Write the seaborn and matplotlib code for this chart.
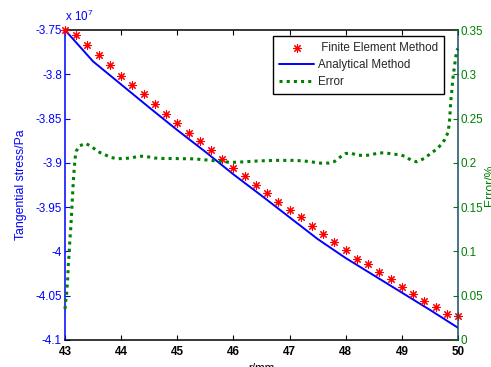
import numpy as np
import pandas as pd
import matplotlib
matplotlib.use("Agg")
import matplotlib.pyplot as plt
from matplotlib.collections import PathCollection
from matplotlib.ticker import FixedLocator, FuncFormatter
import seaborn as sns

# ---- data -------------------------------------------------------------
# Finite element results, every 0.2 mm from r = 43 to 50 (units of 1e7 Pa)
fem_r = np.round(np.arange(43.0, 50.0001, 0.2), 2)
fem_stress = np.array([
    -3.7500, -3.7558, -3.7672, -3.7787, -3.7898, -3.8015, -3.8122, -3.8228,
    -3.8337, -3.8450, -3.8550, -3.8658, -3.8755, -3.8855, -3.8955, -3.9055,
    -3.9152, -3.9248, -3.9344, -3.9444, -3.9530, -3.9613, -3.9710, -3.9800,
    -3.9890, -3.9980, -4.0080, -4.0145, -4.0230, -4.0310, -4.0400, -4.0480,
    -4.0560, -4.0630, -4.0707, -4.0727,
])

# Analytical solution (units of 1e7 Pa)
ana_r = [43.0, 43.5, 44.0, 44.5, 45.0, 45.5, 46.0, 46.5,
         47.0, 47.5, 48.0, 48.5, 49.0, 49.5, 50.0]
ana_stress = [-3.7500, -3.7855, -3.8115, -3.8375, -3.8630, -3.8875, -3.9130,
              -3.9370, -3.9615, -3.9860, -4.0075, -4.0270, -4.0465, -4.0660,
              -4.0862]

# Relative error between the two solutions (%)
err_r = [43.000, 43.012, 43.030, 43.048, 43.060, 43.072, 43.085, 43.100,
         43.115, 43.130, 43.148, 43.165, 43.180, 43.200, 43.250, 43.370,
         43.490, 43.590, 43.700, 43.820, 43.940, 44.070, 44.200, 44.320,
         44.460, 44.590, 44.720, 45.000, 45.300, 45.600, 45.850, 46.000,
         46.200, 46.450, 46.730, 47.070, 47.250, 47.400, 47.550, 47.700,
         47.800, 47.900, 48.000, 48.080, 48.200, 48.320, 48.450, 48.580,
         48.700, 48.850, 48.970, 49.060, 49.160, 49.260, 49.400, 49.500,
         49.600, 49.700, 49.760, 49.820, 49.846, 49.858, 49.870, 49.888,
         49.906, 49.929, 49.952, 49.977, 50.000]
err_val = [0.035, 0.044, 0.053, 0.069, 0.086, 0.096, 0.111, 0.124,
           0.140, 0.158, 0.179, 0.194, 0.205, 0.213, 0.219, 0.222,
           0.2175, 0.2126, 0.2095, 0.2060, 0.2047, 0.2050, 0.2058, 0.2077,
           0.2070, 0.2055, 0.2050, 0.2048, 0.2045, 0.2028, 0.2010, 0.2006,
           0.2012, 0.2022, 0.2028, 0.2028, 0.2022, 0.2010, 0.1997, 0.1998,
           0.2015, 0.2065, 0.2105, 0.2112, 0.2088, 0.2082, 0.2090, 0.2112,
           0.2113, 0.2098, 0.2092, 0.2072, 0.2032, 0.2012, 0.2050, 0.2100,
           0.2145, 0.2205, 0.2260, 0.2340, 0.2446, 0.2560, 0.2690, 0.2800,
           0.2935, 0.3050, 0.3160, 0.3270, 0.3290]

x_ticks = [43, 44, 45, 46, 47, 48, 49, 50]
left_ticks = [-4.1, -4.05, -4.0, -3.95, -3.9, -3.85, -3.8, -3.75]
right_ticks = [0, 0.05, 0.1, 0.15, 0.2, 0.25, 0.3, 0.35]

SCALE = 1e7
fem_df = pd.DataFrame({"r": fem_r, "stress": fem_stress * SCALE})
ana_df = pd.DataFrame({"r": ana_r, "stress": np.array(ana_stress) * SCALE})
err_df = pd.DataFrame({"r": err_r, "err": err_val})

# ---- style --------------------------------------------------------------
sns.set_theme(style="white")
plt.rcParams["font.family"] = ["Liberation Sans", "DejaVu Sans"]
plt.rcParams["mathtext.fontset"] = "custom"
plt.rcParams["mathtext.rm"] = "Liberation Sans"
plt.rcParams["mathtext.it"] = "Liberation Sans"
plt.rcParams["axes.unicode_minus"] = False

BLUE = "#0000ff"
GREEN = "#008000"
RED = "#ff0000"
FS = 8.4

fig = plt.figure(figsize=(4.91, 3.67), dpi=100)
fig.patch.set_facecolor("white")
ax = fig.add_axes([65 / 491, 27 / 367, 393 / 491, 310 / 367])
ax2 = ax.twinx()

# ---- stress curves (left axis) -----------------------------------------
sns.lineplot(data=ana_df, x="r", y="stress", ax=ax, color=BLUE, lw=1.4,
             errorbar=None, legend=False, zorder=2)
sns.scatterplot(data=fem_df, x="r", y="stress", ax=ax, marker=(8, 2, 0),
                color=RED, s=30, linewidths=0.8, legend=False, zorder=3,
                clip_on=False)

# ---- error curve (right axis) ------------------------------------------
sns.lineplot(data=err_df, x="r", y="err", ax=ax2, color=GREEN, lw=2.2,
             linestyle=(0, (1, 1.35)), errorbar=None, legend=False,
             clip_on=False)

# ---- axes ----------------------------------------------------------------
ax.set_xlim(43, 50)
ax.set_ylim(-4.1 * SCALE, -3.75 * SCALE)
ax2.set_ylim(0, 0.35)

ax.xaxis.set_major_locator(FixedLocator(x_ticks))
ax.yaxis.set_major_locator(FixedLocator([v * SCALE for v in left_ticks]))
ax2.yaxis.set_major_locator(FixedLocator(right_ticks))
ax.xaxis.set_major_formatter(FuncFormatter(lambda v, p: f"{v:g}"))
ax.yaxis.set_major_formatter(FuncFormatter(lambda v, p: f"{round(v / SCALE, 4):g}"))
ax2.yaxis.set_major_formatter(FuncFormatter(lambda v, p: f"{round(v, 4):g}"))

ax.tick_params(axis="x", direction="in", length=3.3, width=0.8, color="black",
               top=True, bottom=True, labelsize=FS, labelcolor="black", pad=4.2)
for lab in ax.get_xticklabels():
    lab.set_fontweight("bold")
ax.tick_params(axis="y", direction="in", length=3.3, width=0.8, color=BLUE,
               left=True, right=False, labelsize=FS, labelcolor=BLUE, pad=2.2)
ax2.tick_params(axis="y", direction="in", length=3.3, width=0.8, color=GREEN,
                right=True, left=False, labelsize=FS, labelcolor=GREEN, pad=1.5)
ax2.tick_params(axis="x", which="both", bottom=False, top=False)

for side, col in [("left", BLUE), ("bottom", "black"), ("top", "black")]:
    ax.spines[side].set_color(col)
    ax.spines[side].set_linewidth(1.1)
ax.spines["right"].set_visible(False)
for side in ["left", "bottom", "top"]:
    ax2.spines[side].set_visible(False)
ax2.spines["right"].set_color("#145064")
ax2.spines["right"].set_linewidth(1.1)

ax.set_xlabel("r/mm", fontsize=FS, color="black", labelpad=4)
ax.set_ylabel("Tangential stress/Pa", fontsize=FS + 0.4, color=BLUE, labelpad=6)
ax2.set_ylabel("Error/%", fontsize=FS + 0.4, color=GREEN, labelpad=1,
               rotation=90)

ax.text(0.0, 1.029, r"x 10$^{7}$", transform=ax.transAxes, color=BLUE,
        fontsize=FS, ha="left", va="baseline")

# ---- legend ------------------------------------------------------------
fem_handle = [c for c in ax.collections if isinstance(c, PathCollection)][0]
handles = [fem_handle, ax.lines[0], ax2.lines[0]]
labels = [" Finite Element Method", "Analytical Method", "Error"]
leg = ax2.legend(handles, labels, loc="upper right",
                 bbox_to_anchor=(0.965, 0.9806), bbox_transform=ax.transAxes,
                 borderaxespad=0, frameon=True, fancybox=False,
                 edgecolor="black", framealpha=1, fontsize=FS,
                 handlelength=3.0, handletextpad=0.34, borderpad=0.5,
                 labelspacing=0.45, scatterpoints=1)
leg.get_frame().set_linewidth(1.0)

fig.savefig("out.png", dpi=100)
